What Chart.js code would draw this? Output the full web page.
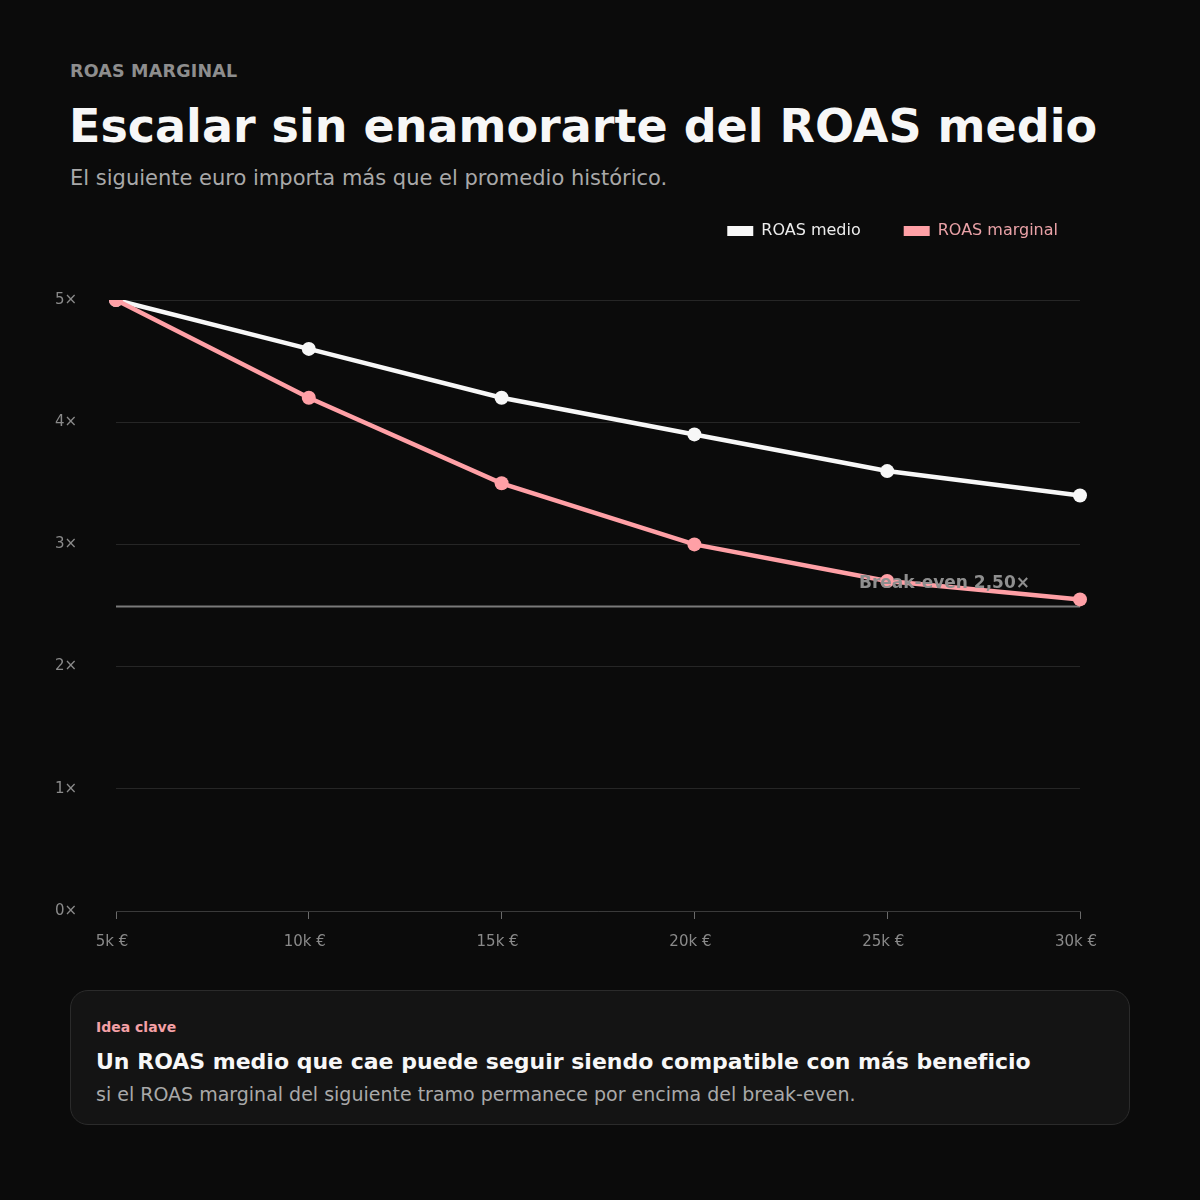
<!DOCTYPE html>
<html lang="es">
<head>
<meta charset="utf-8">
<title>ROAS marginal</title>
<script src="https://cdn.jsdelivr.net/npm/chart.js@4.4.1/dist/chart.umd.min.js"></script>
<style>
    html, body {
        margin: 0;
        padding: 0;
        background: #0b0b0b;
        font-family: "DejaVu Sans", sans-serif;
    }
    .page {
        position: relative;
        width: 1200px;
        height: 1200px;
        overflow: hidden;
    }
    .eyebrow {
        position: absolute;
        left: 70px;
        top: 61px;
        font-size: 17.5px;
        font-weight: bold;
        color: #8e8e8e;
        letter-spacing: 0.2px;
    }
    h1 {
        position: absolute;
        left: 69px;
        top: 99px;
        margin: 0;
        font-size: 46px;
        font-weight: bold;
        color: #f7f7f7;
        white-space: nowrap;
    }
    .subtitle {
        position: absolute;
        left: 70px;
        top: 166px;
        font-size: 21px;
        color: #a9a9a9;
    }
    .chart-box {
        position: absolute;
        left: 40px;
        top: 180px;
        width: 1061px;
        height: 785px;
    }
    .card {
        position: absolute;
        left: 70px;
        top: 990px;
        width: 1060px;
        height: 135px;
        box-sizing: border-box;
        background: #141414;
        border: 1px solid #2b2b2b;
        border-radius: 18px;
    }
    .card .tag {
        position: absolute;
        left: 25px;
        top: 28px;
        font-size: 14px;
        font-weight: bold;
        color: #f4a0a6;
    }
    .card .lead {
        position: absolute;
        left: 25px;
        top: 58px;
        font-size: 22px;
        font-weight: bold;
        color: #f7f7f7;
        white-space: nowrap;
    }
    .card .body {
        position: absolute;
        left: 25px;
        top: 92px;
        font-size: 19px;
        color: #a9a9a9;
        white-space: nowrap;
    }
</style>
</head>
<body>
<div class="page">
    <div class="eyebrow">ROAS MARGINAL</div>
    <h1>Escalar sin enamorarte del ROAS medio</h1>
    <div class="subtitle">El siguiente euro importa más que el promedio histórico.</div>
    <div class="chart-box"><canvas id="roas-chart"></canvas></div>
    <div class="card">
        <div class="tag">Idea clave</div>
        <div class="lead">Un ROAS medio que cae puede seguir siendo compatible con más beneficio</div>
        <div class="body">si el ROAS marginal del siguiente tramo permanece por encima del break-even.</div>
    </div>
</div>

<script>
    // Data
    const spendLabels = ['5k €', '10k €', '15k €', '20k €', '25k €', '30k €'];
    const roasMedio = [5.0, 4.6, 4.2, 3.9, 3.6, 3.4];
    const roasMarginal = [5.0, 4.2, 3.5, 3.0, 2.7, 2.55];
    const yTicks = [0, 1, 2, 3, 4, 5];
    const breakEven = 2.5;
    const breakEvenLabel = 'Break-even 2,50×';

    const WHITE = '#f7f7f7';
    const PINK = '#ffa0a6';

    Chart.defaults.font.family = '"DejaVu Sans", sans-serif';

    // Break-even line under the series, its label on top
    const breakEvenPlugin = {
        id: 'breakEven',
        beforeDatasetsDraw(chart) {
            const { ctx, chartArea, scales } = chart;
            const y = Math.round(scales.y.getPixelForValue(breakEven)) + 0.5;
            ctx.save();
            ctx.strokeStyle = '#7a7a7a';
            ctx.lineWidth = 2;
            ctx.beginPath();
            ctx.moveTo(chartArea.left, y);
            ctx.lineTo(chartArea.right, y);
            ctx.stroke();
            ctx.restore();
        },
        afterDatasetsDraw(chart) {
            const { ctx, chartArea, scales } = chart;
            const y = scales.y.getPixelForValue(breakEven);
            ctx.save();
            ctx.font = 'bold 17px "DejaVu Sans", sans-serif';
            ctx.fillStyle = '#8f8f8f';
            ctx.textAlign = 'right';
            ctx.textBaseline = 'alphabetic';
            ctx.fillText(breakEvenLabel, chartArea.right - 50, y - 18);
            ctx.restore();
        }
    };

    const ctx = document.getElementById('roas-chart');

    new Chart(ctx, {
        type: 'line',
        data: {
            labels: spendLabels,
            datasets: [
                {
                    label: 'ROAS medio',
                    data: roasMedio,
                    borderColor: WHITE,
                    backgroundColor: WHITE,
                    borderWidth: 4.5,
                    pointRadius: 7,
                    pointBorderWidth: 0,
                    tension: 0,
                    fill: false,
                    order: 1,
                },
                {
                    label: 'ROAS marginal',
                    data: roasMarginal,
                    borderColor: PINK,
                    backgroundColor: PINK,
                    borderWidth: 4.5,
                    pointRadius: 7,
                    pointBorderWidth: 0,
                    tension: 0,
                    fill: false,
                    order: 0,
                }
            ]
        },
        options: {
            responsive: true,
            maintainAspectRatio: false,
            animation: false,
            layout: {
                padding: 0
            },
            plugins: {
                legend: {
                    position: 'top',
                    align: 'end',
                    labels: {
                        boxWidth: 26,
                        boxHeight: 10,
                        padding: 43,
                        font: { size: 16 },
                        generateLabels: function(chart) {
                            return chart.data.datasets.map((ds, i) => ({
                                text: ds.label,
                                fillStyle: ds.borderColor,
                                strokeStyle: ds.borderColor,
                                lineWidth: 0,
                                fontColor: i === 0 ? '#ececec' : '#eaa2a7',
                                hidden: false,
                                datasetIndex: i
                            }));
                        }
                    }
                },
                tooltip: { enabled: false }
            },
            scales: {
                x: {
                    offset: false,
                    afterFit: function(scale) {
                        scale.paddingLeft = 0;
                        scale.paddingRight = 21;
                    },
                    grid: {
                        display: true,
                        drawOnChartArea: false,
                        drawTicks: true,
                        tickLength: 8,
                        color: '#6a6a6a'
                    },
                    border: {
                        display: true,
                        color: '#3a3a3a'
                    },
                    ticks: {
                        color: '#8a8a8a',
                        font: { size: 15 },
                        padding: 14,
                        labelOffset: -4,
                        maxRotation: 0
                    }
                },
                xTop: {
                    type: 'category',
                    labels: spendLabels,
                    position: 'top',
                    grid: { display: false },
                    border: { display: false },
                    ticks: { display: false },
                    afterFit: function(scale) {
                        scale.height = 51;
                        scale.paddingLeft = 0;
                        scale.paddingRight = 0;
                    }
                },
                y: {
                    min: 0,
                    max: 5,
                    afterBuildTicks: function(scale) {
                        scale.ticks = yTicks.map(v => ({ value: v }));
                    },
                    afterFit: function(scale) {
                        scale.width = 76;
                        scale.paddingTop = 0;
                        scale.paddingBottom = 0;
                    },
                    grid: {
                        color: '#262626',
                        lineWidth: 1,
                        drawTicks: false
                    },
                    border: { display: false },
                    ticks: {
                        color: '#8a8a8a',
                        font: { size: 15 },
                        padding: 39,
                        callback: function(value) {
                            return value + '×';
                        }
                    }
                }
            }
        },
        plugins: [breakEvenPlugin]
    });
</script>
</body>
</html>
